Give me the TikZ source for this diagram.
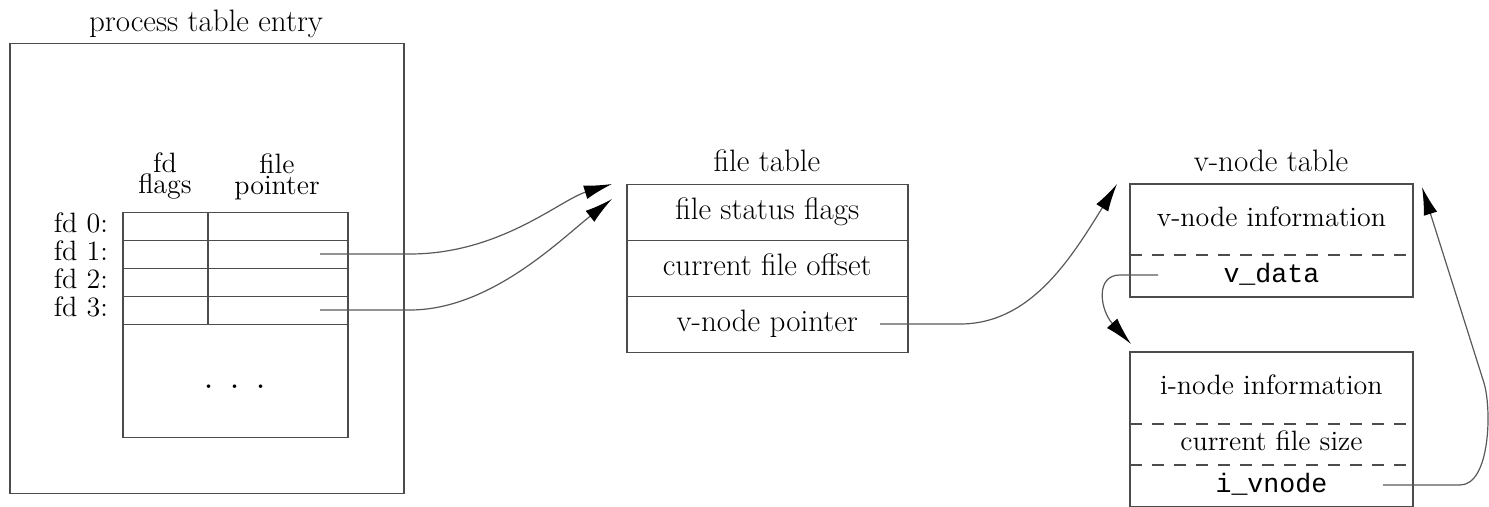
\documentclass[tikz,border=0pt]{standalone}
\usepackage{fontspec}
\newfontfamily\monof{Liberation Mono}
\usetikzlibrary{arrows.meta}
\definecolor{boxc}{gray}{0.3}
\definecolor{connc}{gray}{0.35}
\begin{document}
\begin{tikzpicture}[x=0.5pt,y=-0.5pt,
  box/.style={draw=boxc, line width=0.75pt, inner sep=0pt, anchor=north west},
  cell/.style={inner sep=0pt, anchor=north west, text height=10pt, text depth=3pt},
  big/.style={font=\fontsize{15.5}{18}\selectfont},
  small/.style={font=\fontsize{14}{16}\selectfont},
  head/.style={font=\fontsize{14}{10.5}\selectfont, align=center, inner sep=0pt, anchor=south},
  mono/.style={font=\fontsize{13.3}{16}\monof},
  frame/.style={draw=boxc, line width=0.75pt},
  dashline/.style={draw=boxc, line width=0.75pt, dash pattern=on 6pt off 5pt},
  conn/.style={draw=connc, line width=0.6pt, -{Latex[length=14pt,width=7pt,color=black]}},
]
\useasboundingbox (0,0) rectangle (1489,507);

% process table entry
\node[box, minimum width=197pt, minimum height=225pt] (proc) at (9,43) {};
\node[big, anchor=base] (proct) at (206,32) {process table entry};

\node[box, minimum width=42.5pt, minimum height=14pt] (fl0) at (122,212) {};
\node[box, minimum width=70pt, minimum height=14pt] (fp0) at (207,212) {};
\node[box, minimum width=42.5pt, minimum height=14pt] (fl1) at (122,240) {};
\node[box, minimum width=70pt, minimum height=14pt] (fp1) at (207,240) {};
\node[box, minimum width=42.5pt, minimum height=14pt] (fl2) at (122,268) {};
\node[box, minimum width=70pt, minimum height=14pt] (fp2) at (207,268) {};
\node[box, minimum width=42.5pt, minimum height=14pt] (fl3) at (122,296) {};
\node[box, minimum width=70pt, minimum height=14pt] (fp3) at (207,296) {};
\node[box, minimum width=112.5pt, minimum height=56.5pt] (rest) at (122,324) {};
\node[font=\fontsize{22}{24}\selectfont, anchor=base, inner sep=0pt] (dots) at (235,389) {.\hspace{7.6pt}.\hspace{7.6pt}.};

\node[small, anchor=base east] (l0) at (115,233) {fd 0:};
\node[small, anchor=base east] (l1) at (115,261) {fd 1:};
\node[small, anchor=base east] (l2) at (115,289) {fd 2:};
\node[small, anchor=base east] (l3) at (115,317) {fd 3:};

\node[head] (h1) at (165,200) {fd\\flags};
\node[head] (h2) at (277,200) {file\\pointer};

% file table
\node[big, anchor=base] (ftt) at (767,172) {file table};
\node[box, cell, big, minimum width=140.5pt, minimum height=28pt] (fsf) at (626,184) {file status flags};
\node[box, cell, big, minimum width=140.5pt, minimum height=28pt] (cfo) at (626,240) {current file offset};
\node[box, cell, big, minimum width=140.5pt, minimum height=28pt] (vnp) at (626,296) {v-node pointer};

% v-node table
\node[big, anchor=base] (vtt) at (1271,172) {v-node table};
\node[cell, small, minimum width=141pt, minimum height=35pt] (vinfo) at (1130,184) {v-node information};
\node[cell, mono, minimum width=141pt, minimum height=21pt] (vdata) at (1130,254) {v\_data};
\draw[frame] (vinfo.north west) rectangle (vdata.south east);
\draw[dashline] (vinfo.south west) -- (vinfo.south east);

% i-node
\node[cell, small, minimum width=141pt, minimum height=35.5pt] (iinfo) at (1130,352) {i-node information};
\node[cell, small, minimum width=141pt, minimum height=20.5pt] (cfs) at (1130,423) {current file size};
\node[cell, mono, minimum width=141pt, minimum height=21pt] (ivn) at (1130,464) {i\_vnode};
\draw[frame] (iinfo.north west) rectangle (ivn.south east);
\draw[dashline] (iinfo.south west) -- (iinfo.south east);
\draw[dashline] (cfs.south west) -- (cfs.south east);

% connector endpoints
\coordinate (s1) at (320,254);
\coordinate (s2) at (320,310);
\coordinate (s3) at (880,324);
\coordinate (s4) at (1158,275);
\coordinate (s5) at (1383,485);
\coordinate (t1) at (612,184);
\coordinate (t2) at (612,199);
\coordinate (t3) at (1117,184);
\coordinate (t4) at (1131,344);
\coordinate (t5) at (1422,187);

\draw[conn] (s1) -- ++(90,0) .. controls +(90,0) and (560,200) .. (t1);
\draw[conn] (s2) -- ++(90,0) .. controls +(80,0) and (560,240) .. (t2);
\draw[conn] (s3) -- ++(80,0) .. controls +(70,0) and (1070,260) .. (t3);
\draw[conn] (s4) -- ++(-38,0) .. controls +(-25,0) and (1100,310) .. (t4);
\draw[conn] (s5) -- ++(77,0) .. controls +(30,0) and (1492,410) .. (1484,383) -- (t5);
\end{tikzpicture}
\end{document}
